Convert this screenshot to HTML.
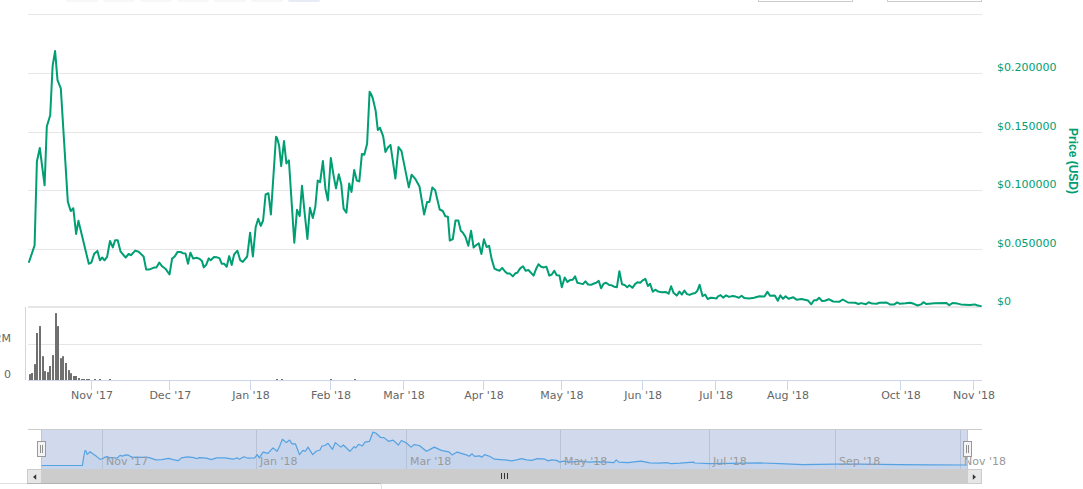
<!DOCTYPE html>
<html><head><meta charset="utf-8"><title>Price chart</title>
<style>
html,body{margin:0;padding:0;background:#fff;overflow:hidden;}
body{width:1083px;height:489px;position:relative;}
svg{position:absolute;left:0;top:0;display:block;}
text{font-family:"DejaVu Sans","Liberation Sans",sans-serif;font-size:11px;}
</style></head>
<body>
<svg width="1083" height="489" viewBox="0 0 1083 489">
<rect x="0" y="0" width="1083" height="489" fill="#fff"/>
<!-- range selector buttons -->
<g><rect x="66" y="-10" width="32" height="12" rx="2" ry="2" fill="#f7f7f7"/>
<rect x="103" y="-10" width="32" height="12" rx="2" ry="2" fill="#f7f7f7"/>
<rect x="140" y="-10" width="32" height="12" rx="2" ry="2" fill="#f7f7f7"/>
<rect x="177" y="-10" width="32" height="12" rx="2" ry="2" fill="#f7f7f7"/>
<rect x="214" y="-10" width="32" height="12" rx="2" ry="2" fill="#f7f7f7"/>
<rect x="251" y="-10" width="32" height="12" rx="2" ry="2" fill="#f7f7f7"/>
<rect x="288" y="-10" width="32" height="12" rx="2" ry="2" fill="#e6ebf5"/></g>
<!-- date inputs -->
<rect x="758.5" y="-10" width="94" height="11.5" fill="#fff" stroke="#ccc" stroke-width="1"/>
<rect x="887.5" y="-10" width="94" height="11.5" fill="#fff" stroke="#ccc" stroke-width="1"/>
<!-- grid -->
<g fill="#e6e6e6"><rect x="28" y="14" width="954" height="1"/>
<rect x="28" y="73" width="954" height="1"/>
<rect x="28" y="132" width="954" height="1"/>
<rect x="28" y="190" width="954" height="1"/>
<rect x="28" y="249" width="954" height="1"/>
<rect x="28" y="306" width="954" height="2"/>
<rect x="28" y="344" width="954" height="1"/>
</g>
<!-- volume axis left line -->
<rect x="25" y="307" width="1" height="73" fill="#ccd6eb"/>
<!-- volume bars -->
<g fill="#707070"><rect x="29" y="374.1" width="2" height="5.9"/>
<rect x="31" y="373.0" width="2" height="7.0"/>
<rect x="34" y="364.1" width="2" height="15.9"/>
<rect x="36" y="333.0" width="2" height="47.0"/>
<rect x="39" y="326.1" width="2" height="53.9"/>
<rect x="42" y="356.2" width="2" height="23.8"/>
<rect x="44" y="371.1" width="2" height="8.9"/>
<rect x="47" y="372.1" width="2" height="7.9"/>
<rect x="49" y="366.0" width="2" height="14.0"/>
<rect x="52" y="355.1" width="2" height="24.9"/>
<rect x="55" y="313.1" width="2" height="66.9"/>
<rect x="57" y="326.1" width="2" height="53.9"/>
<rect x="60" y="358.2" width="2" height="21.8"/>
<rect x="62" y="356.2" width="2" height="23.8"/>
<rect x="65" y="363.0" width="2" height="17.0"/>
<rect x="68" y="370.1" width="2" height="9.9"/>
<rect x="70" y="373.2" width="2" height="6.8"/>
<rect x="73" y="376.0" width="2" height="4.0"/>
<rect x="75" y="376.0" width="2" height="4.0"/>
<rect x="78" y="378.0" width="2" height="2.0"/>
<rect x="81" y="379.0" width="2" height="1.0"/>
<rect x="83" y="379.0" width="2" height="1.0"/>
<rect x="86" y="379.0" width="2" height="1.0"/>
<rect x="88" y="379.0" width="2" height="1.0"/>
<rect x="94" y="379.0" width="2" height="1.0"/>
<rect x="99" y="379.0" width="2" height="1.0"/>
<rect x="109" y="379.0" width="2" height="1.0"/>
<rect x="276" y="379.0" width="2" height="1.0"/>
<rect x="281" y="379.0" width="2" height="1.0"/>
<rect x="330" y="379.0" width="2" height="1.0"/>
<rect x="354" y="379.0" width="2" height="1.0"/></g>
<!-- x axis -->
<rect x="28" y="380" width="954" height="1" fill="#ccd6eb"/>
<g fill="#ccd6eb"><rect x="91" y="380" width="1" height="10"/>
<rect x="169" y="380" width="1" height="10"/>
<rect x="250" y="380" width="1" height="10"/>
<rect x="330" y="380" width="1" height="10"/>
<rect x="403" y="380" width="1" height="10"/>
<rect x="483" y="380" width="1" height="10"/>
<rect x="561" y="380" width="1" height="10"/>
<rect x="642" y="380" width="1" height="10"/>
<rect x="715" y="380" width="1" height="10"/>
<rect x="787" y="380" width="1" height="10"/>
<rect x="900" y="380" width="1" height="10"/>
<rect x="973" y="380" width="1" height="10"/></g>
<g fill="#666" text-anchor="middle"><text x="92.0" y="399">Nov '17</text>
<text x="170.3" y="399">Dec '17</text>
<text x="250.9" y="399">Jan '18</text>
<text x="331.1" y="399">Feb '18</text>
<text x="404.0" y="399">Mar '18</text>
<text x="484.0" y="399">Apr '18</text>
<text x="562.0" y="399">May '18</text>
<text x="643.1" y="399">Jun '18</text>
<text x="716.1" y="399">Jul '18</text>
<text x="788.0" y="399">Aug '18</text>
<text x="900.9" y="399">Oct '18</text>
<text x="974.0" y="399">Nov '18</text></g>
<!-- price line -->
<path d="M29.0 262.0 L34.6 245.4 L36.9 161.5 L39.8 148.0 L44.6 185.3 L46.8 126.5 L50.2 115.3 L52.6 66.2 L55.1 51.0 L57.5 80.1 L60.8 88.3 L67.8 201.6 L70.7 211.0 L73.3 208.2 L76.1 234.0 L78.4 220.8 L88.8 263.8 L91.3 262.6 L94.2 253.8 L97.4 250.9 L99.9 260.3 L102.2 257.5 L104.5 260.3 L107.1 256.9 L110.0 240.9 L112.8 247.4 L115.1 240.3 L117.7 240.3 L120.6 251.7 L125.7 257.5 L128.6 254.0 L130.9 255.2 L135.2 250.6 L138.6 251.7 L143.6 256.5 L146.2 269.6 L149.0 269.6 L153.9 267.6 L156.4 267.4 L159.3 262.5 L162.1 266.3 L165.4 268.7 L169.5 274.5 L172.1 258.6 L174.7 256.5 L177.6 251.9 L180.6 252.0 L182.9 253.2 L185.5 253.5 L188.0 263.8 L190.4 252.7 L193.2 258.6 L196.5 257.8 L199.7 258.9 L201.9 260.9 L203.8 267.4 L206.3 264.6 L208.7 258.4 L210.7 260.2 L214.0 257.0 L216.6 257.3 L219.4 258.1 L221.8 263.8 L224.3 263.8 L226.7 266.8 L229.2 256.1 L231.7 265.1 L234.1 254.5 L237.4 250.7 L240.2 260.2 L242.8 261.9 L247.2 256.5 L250.1 232.7 L252.9 256.5 L255.7 227.0 L258.2 218.8 L260.8 225.9 L263.1 220.5 L265.6 194.5 L268.4 193.2 L270.9 214.4 L276.0 136.7 L277.1 138.0 L279.1 145.4 L281.2 166.2 L284.0 141.0 L286.4 163.4 L288.9 160.4 L294.3 242.7 L297.0 209.8 L299.7 216.0 L302.0 185.7 L304.6 212.7 L307.4 238.9 L309.9 207.8 L312.8 218.0 L315.3 207.0 L317.7 180.6 L320.1 182.2 L322.9 160.9 L325.4 188.7 L327.9 200.5 L330.8 158.0 L333.6 175.6 L336.0 188.4 L338.8 174.3 L341.3 184.6 L343.6 208.6 L346.4 212.7 L349.2 183.6 L351.5 192.0 L354.2 169.9 L356.8 180.6 L359.3 181.4 L361.9 153.9 L364.3 154.7 L367.1 143.7 L369.6 91.8 L371.1 94.1 L372.7 98.0 L375.6 110.4 L377.8 130.0 L380.0 127.8 L383.2 136.4 L385.4 151.9 L387.9 147.5 L390.5 144.9 L395.4 178.6 L398.5 147.0 L401.5 151.1 L408.8 187.4 L411.6 174.8 L415.1 178.6 L419.5 186.5 L424.1 214.4 L427.1 202.1 L429.4 202.1 L432.3 187.4 L435.1 190.1 L439.7 209.5 L442.8 211.0 L445.3 216.2 L447.9 216.7 L449.8 240.6 L452.8 239.0 L455.5 220.5 L458.3 220.5 L460.8 230.8 L462.9 232.7 L465.4 236.8 L468.3 245.8 L471.1 230.8 L473.6 247.5 L476.3 245.0 L478.8 243.4 L481.4 254.0 L483.9 239.3 L486.6 247.0 L489.1 245.8 L491.6 258.9 L494.5 268.7 L497.3 270.0 L499.7 270.7 L502.2 267.9 L505.0 271.5 L507.4 273.6 L510.0 273.6 L512.8 276.4 L515.3 273.3 L517.3 272.8 L520.2 268.4 L523.0 266.3 L525.6 270.7 L528.4 270.0 L533.6 275.6 L536.2 268.7 L538.5 264.2 L541.1 266.8 L543.9 267.4 L546.4 266.8 L549.3 275.6 L551.8 274.5 L554.2 270.7 L556.7 275.3 L559.5 275.6 L561.8 287.2 L564.7 277.5 L567.4 281.9 L570.0 280.1 L572.6 279.8 L575.1 276.4 L577.4 282.8 L579.9 283.4 L582.9 284.1 L585.4 281.3 L588.1 284.5 L591.0 284.8 L594.0 283.5 L596.2 282.8 L598.7 280.8 L601.1 288.2 L603.6 283.8 L606.2 282.8 L609.2 285.0 L611.7 285.3 L614.4 286.8 L616.9 287.2 L619.4 271.2 L622.0 284.2 L624.7 285.0 L627.2 287.2 L629.4 285.3 L632.4 287.8 L635.3 283.8 L637.5 282.3 L640.2 282.8 L642.7 280.4 L645.4 278.9 L647.9 286.0 L650.1 283.8 L652.8 291.6 L655.3 289.7 L658.2 291.6 L661.9 292.2 L665.6 291.9 L668.6 293.7 L671.1 286.3 L673.7 293.1 L676.7 295.6 L679.4 291.6 L681.9 294.6 L684.4 290.5 L687.0 294.1 L689.7 294.9 L692.2 293.7 L695.2 293.1 L697.4 290.7 L699.6 284.8 L702.5 296.1 L705.1 294.6 L707.7 299.0 L710.7 297.8 L714.4 298.1 L716.3 298.6 L718.0 296.3 L720.6 295.1 L723.1 297.6 L726.1 295.4 L729.0 296.9 L732.7 296.0 L735.7 296.6 L738.9 297.8 L741.6 295.8 L744.5 298.1 L749.0 298.4 L754.1 297.8 L759.3 296.3 L764.5 296.6 L767.4 291.7 L770.0 295.8 L774.8 295.4 L777.8 300.7 L780.3 295.4 L783.0 298.8 L785.6 296.3 L788.6 298.8 L793.3 297.3 L797.0 299.8 L801.4 299.1 L808.1 300.6 L811.3 304.3 L814.0 300.3 L816.6 300.3 L819.1 297.8 L822.1 301.0 L825.0 300.7 L828.7 299.2 L833.2 301.5 L839.1 301.8 L842.8 299.5 L848.0 302.5 L855.3 302.8 L858.3 304.0 L861.2 303.1 L866.0 304.3 L868.6 302.2 L871.6 303.4 L873.3 303.6 L876.6 303.8 L879.4 302.7 L886.6 302.5 L889.9 304.4 L894.4 304.4 L897.1 302.4 L899.9 303.8 L905.5 303.3 L910.4 302.7 L913.8 303.8 L917.6 305.5 L921.0 304.4 L923.4 302.2 L926.5 304.1 L934.3 303.3 L946.5 303.0 L949.2 305.2 L952.5 303.0 L957.5 303.6 L960.9 304.4 L969.7 304.9 L974.7 304.4 L976.9 305.2 L980.8 306.1" fill="none" stroke="#009e73" stroke-width="2" stroke-linejoin="round" stroke-linecap="round"/>
<!-- y labels -->
<g fill="#009e73"><text x="997" y="71">$0.200000</text>
<text x="997" y="130">$0.150000</text>
<text x="997" y="188">$0.100000</text>
<text x="997" y="247">$0.050000</text>
<text x="997" y="305">$0</text></g>
<text x="0" y="0" transform="translate(1068.5 161) rotate(90)" text-anchor="middle" fill="#009e73" style="font-family:'Liberation Sans',sans-serif;font-size:12px;font-weight:bold">Price (USD)</text>
<g fill="#666" text-anchor="end"><text x="11" y="342">2M</text><text x="11" y="378">0</text></g>
<!-- navigator -->
<rect x="42" y="430" width="925" height="39" fill="#d1d9ec"/>
<path d="M42.0 465.5 L82.4 465.5 L83.7 457.0 L85.0 450.5 L85.9 450.9 L87.2 454.4 L90.1 451.8 L92.7 453.7 L96.8 456.6 L99.7 459.1 L102.3 458.8 L104.5 457.4 L107.1 456.6 L109.7 457.7 L111.9 457.7 L117.1 458.1 L120.1 455.4 L122.3 456.1 L126.0 454.9 L128.2 455.1 L130.4 456.4 L132.6 457.4 L137.0 457.1 L141.5 457.4 L146.6 457.1 L150.0 457.9 L155.8 459.9 L161.6 459.6 L168.6 458.4 L173.2 459.6 L178.2 460.7 L181.5 457.9 L187.4 456.8 L194.0 457.6 L196.5 458.7 L199.0 457.6 L206.5 458.2 L211.5 459.6 L216.5 457.9 L224.8 457.9 L233.1 459.2 L237.2 457.9 L239.4 459.2 L243.9 456.8 L248.0 458.2 L254.7 457.9 L257.2 454.6 L259.3 457.9 L263.0 452.1 L268.0 453.3 L273.0 447.9 L277.1 451.3 L279.6 446.3 L282.4 439.3 L286.3 442.6 L289.6 440.1 L292.1 443.8 L295.4 443.8 L299.5 454.6 L302.9 450.4 L305.4 451.3 L307.9 447.1 L312.8 454.6 L316.2 451.3 L320.0 450.0 L322.0 446.0 L325.0 445.5 L328.0 443.3 L332.5 449.3 L335.3 442.6 L340.8 447.1 L343.3 445.0 L349.9 451.3 L354.1 446.6 L355.7 447.9 L358.6 444.3 L362.4 446.0 L364.9 442.1 L369.5 441.3 L372.9 432.2 L375.7 433.0 L380.7 437.5 L384.0 437.6 L388.5 441.3 L393.1 440.1 L398.4 445.0 L401.4 440.5 L406.4 443.0 L411.1 447.1 L413.9 444.6 L419.4 445.5 L426.4 451.3 L429.7 449.6 L434.3 447.1 L441.3 450.4 L448.8 451.8 L452.1 454.9 L457.1 452.1 L466.3 454.9 L469.2 456.3 L472.1 453.8 L474.6 456.3 L479.5 455.9 L482.0 457.1 L484.5 454.6 L489.5 456.3 L494.5 459.2 L500.0 459.6 L505.0 459.9 L511.6 460.9 L516.6 459.9 L521.6 458.7 L526.6 459.9 L531.6 460.4 L537.4 458.6 L544.9 459.2 L548.2 460.9 L551.5 459.9 L556.5 460.4 L559.8 462.1 L563.2 461.2 L569.8 462.1 L579.8 461.2 L589.7 462.1 L596.4 461.7 L606.4 462.1 L613.8 462.6 L616.3 459.9 L618.8 462.1 L628.0 462.6 L636.3 461.6 L641.3 461.2 L649.6 462.9 L659.5 463.2 L666.2 462.6 L671.2 463.6 L680.0 463.2 L693.3 462.1 L695.0 463.0 L709.9 463.7 L729.9 463.4 L759.8 462.9 L780.0 463.6 L803.0 464.6 L835.4 464.2 L860.0 464.2 L900.0 464.6 L930.0 464.8 L967.0 465.0 L967 469 L42 469 Z" fill="#c6d4ec"/>
<g fill="#b8c2d6"><rect x="102" y="430" width="1" height="39"/>
<rect x="256" y="430" width="1" height="39"/>
<rect x="406" y="430" width="1" height="39"/>
<rect x="560" y="430" width="1" height="39"/>
<rect x="709" y="430" width="1" height="39"/>
<rect x="835" y="430" width="1" height="39"/>
<rect x="960" y="430" width="1" height="39"/></g>
<path d="M42.0 465.5 L82.4 465.5 L83.7 457.0 L85.0 450.5 L85.9 450.9 L87.2 454.4 L90.1 451.8 L92.7 453.7 L96.8 456.6 L99.7 459.1 L102.3 458.8 L104.5 457.4 L107.1 456.6 L109.7 457.7 L111.9 457.7 L117.1 458.1 L120.1 455.4 L122.3 456.1 L126.0 454.9 L128.2 455.1 L130.4 456.4 L132.6 457.4 L137.0 457.1 L141.5 457.4 L146.6 457.1 L150.0 457.9 L155.8 459.9 L161.6 459.6 L168.6 458.4 L173.2 459.6 L178.2 460.7 L181.5 457.9 L187.4 456.8 L194.0 457.6 L196.5 458.7 L199.0 457.6 L206.5 458.2 L211.5 459.6 L216.5 457.9 L224.8 457.9 L233.1 459.2 L237.2 457.9 L239.4 459.2 L243.9 456.8 L248.0 458.2 L254.7 457.9 L257.2 454.6 L259.3 457.9 L263.0 452.1 L268.0 453.3 L273.0 447.9 L277.1 451.3 L279.6 446.3 L282.4 439.3 L286.3 442.6 L289.6 440.1 L292.1 443.8 L295.4 443.8 L299.5 454.6 L302.9 450.4 L305.4 451.3 L307.9 447.1 L312.8 454.6 L316.2 451.3 L320.0 450.0 L322.0 446.0 L325.0 445.5 L328.0 443.3 L332.5 449.3 L335.3 442.6 L340.8 447.1 L343.3 445.0 L349.9 451.3 L354.1 446.6 L355.7 447.9 L358.6 444.3 L362.4 446.0 L364.9 442.1 L369.5 441.3 L372.9 432.2 L375.7 433.0 L380.7 437.5 L384.0 437.6 L388.5 441.3 L393.1 440.1 L398.4 445.0 L401.4 440.5 L406.4 443.0 L411.1 447.1 L413.9 444.6 L419.4 445.5 L426.4 451.3 L429.7 449.6 L434.3 447.1 L441.3 450.4 L448.8 451.8 L452.1 454.9 L457.1 452.1 L466.3 454.9 L469.2 456.3 L472.1 453.8 L474.6 456.3 L479.5 455.9 L482.0 457.1 L484.5 454.6 L489.5 456.3 L494.5 459.2 L500.0 459.6 L505.0 459.9 L511.6 460.9 L516.6 459.9 L521.6 458.7 L526.6 459.9 L531.6 460.4 L537.4 458.6 L544.9 459.2 L548.2 460.9 L551.5 459.9 L556.5 460.4 L559.8 462.1 L563.2 461.2 L569.8 462.1 L579.8 461.2 L589.7 462.1 L596.4 461.7 L606.4 462.1 L613.8 462.6 L616.3 459.9 L618.8 462.1 L628.0 462.6 L636.3 461.6 L641.3 461.2 L649.6 462.9 L659.5 463.2 L666.2 462.6 L671.2 463.6 L680.0 463.2 L693.3 462.1 L695.0 463.0 L709.9 463.7 L729.9 463.4 L759.8 462.9 L780.0 463.6 L803.0 464.6 L835.4 464.2 L860.0 464.2 L900.0 464.6 L930.0 464.8 L967.0 465.0" fill="none" stroke="#55a2e2" stroke-width="1.2" stroke-linejoin="round"/>
<g fill="#999"><text x="106" y="465">Nov '17</text>
<text x="260" y="465">Jan '18</text>
<text x="410" y="465">Mar '18</text>
<text x="564" y="465">May '18</text>
<text x="713" y="465">Jul '18</text>
<text x="839" y="465">Sep '18</text>
<text x="964" y="465">Nov '18</text></g>
<rect x="28" y="429" width="954" height="1" fill="#cccccc"/>
<rect x="41" y="430" width="1" height="39" fill="#c4c4c4"/>
<rect x="967" y="430" width="1" height="39" fill="#c4c4c4"/>
<!-- handles -->
<g>
<rect x="37.5" y="441.5" width="8" height="15" fill="#f4f4f4" stroke="#999"/>
<path d="M40.5 445 V453 M42.5 445 V453" stroke="#8f8f8f" stroke-width="1"/>
<rect x="963.5" y="441.5" width="8" height="15" fill="#f4f4f4" stroke="#999"/>
<path d="M966.5 445 V453 M968.5 445 V453" stroke="#8f8f8f" stroke-width="1"/>
</g>
<!-- scrollbar -->
<rect x="27.5" y="469.5" width="954" height="14" fill="#f2f2f2" stroke="#ccc"/>
<rect x="41" y="469" width="927" height="15" fill="#cccccc"/>
<rect x="27.5" y="469.5" width="14" height="14" fill="#e6e6e6" stroke="#ccc"/>
<rect x="967.5" y="469.5" width="14" height="14" fill="#e6e6e6" stroke="#ccc"/>
<path d="M36.2 474.2 L33 477 L36.2 479.8 Z" fill="#333"/>
<path d="M972.8 474.2 L976 477 L972.8 479.8 Z" fill="#333"/>
<path d="M501.5 473 V479 M504.5 473 V479 M507.5 473 V479" stroke="#333" stroke-width="1"/>
<!-- page element below -->
<path d="M0 483.5 H379 Q381.5 483.5 381.5 486 V490" fill="none" stroke="rgba(0,0,0,0.12)" stroke-width="1"/>
</svg>
</body></html>
